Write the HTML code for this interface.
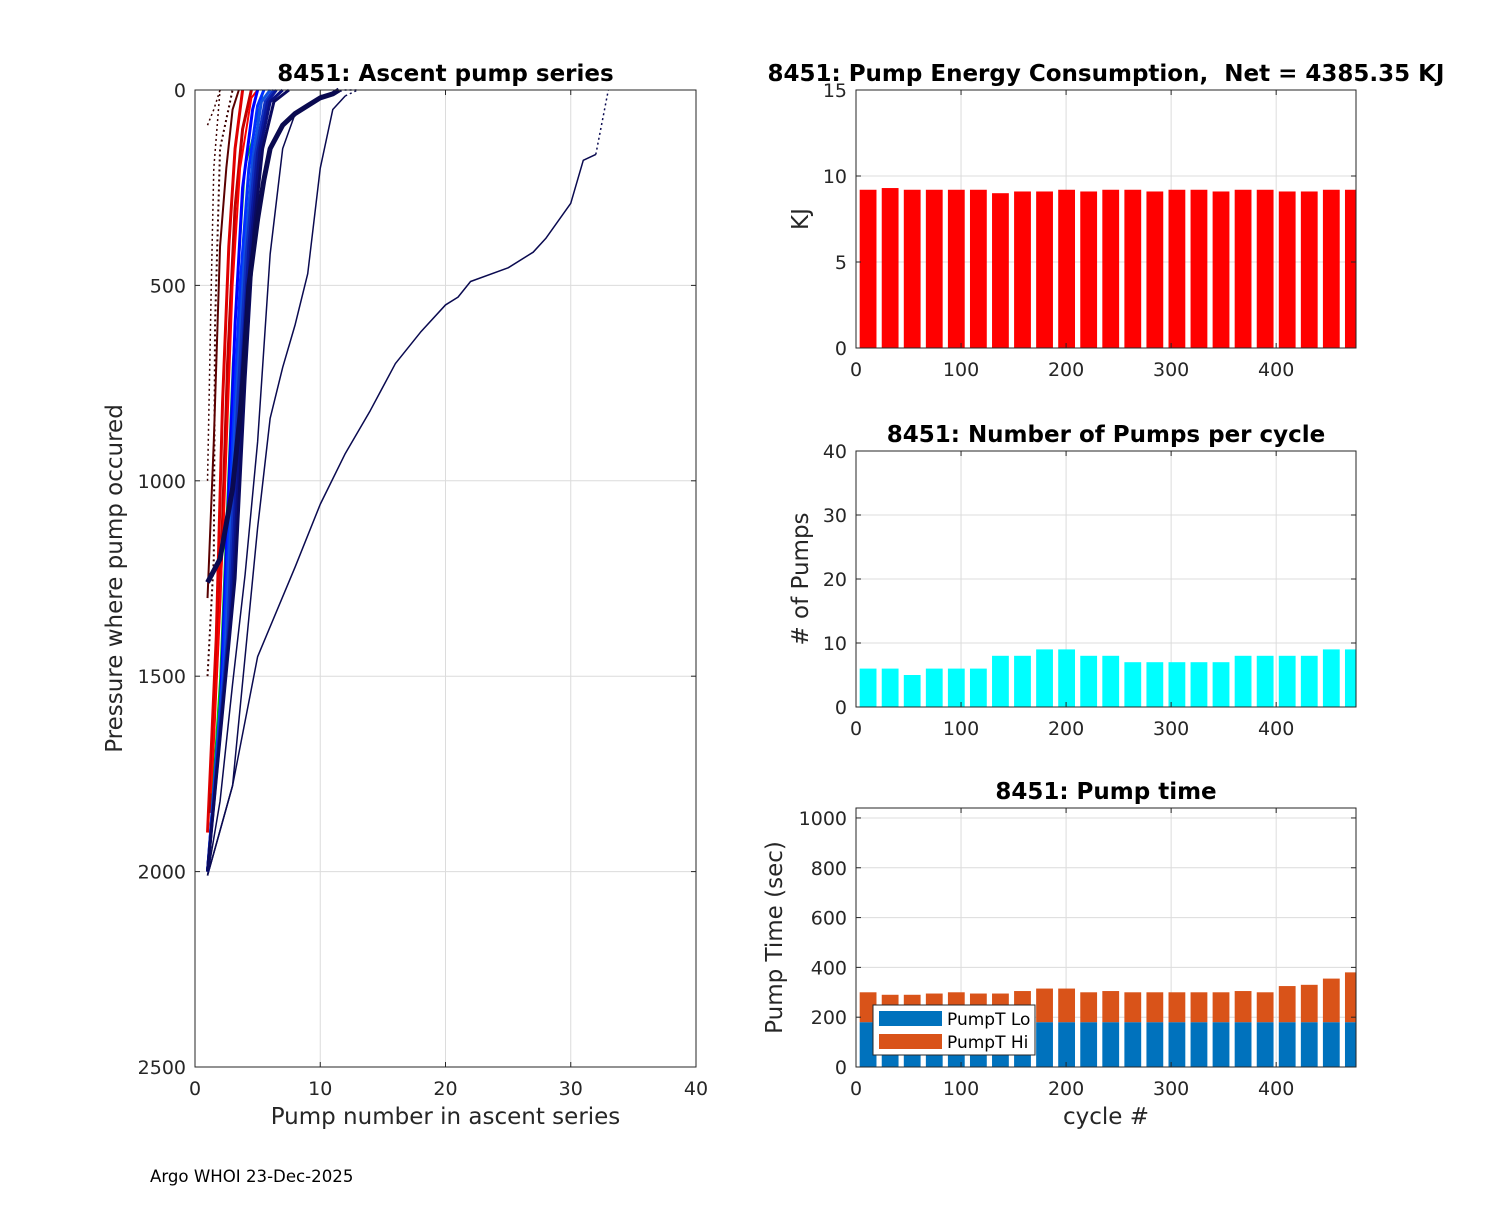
<!DOCTYPE html>
<html><head><meta charset="utf-8"><style>
body{margin:0;background:#fff;}
svg{font-family:"DejaVu Sans","Liberation Sans",sans-serif;}
.t{font-size:19px;fill:#262626}
.ti{font-size:23px;font-weight:bold;fill:#000}
.g{stroke:#dcdcdc;stroke-width:1}
</style></head><body>
<svg id="s" width="1500" height="1200" xmlns="http://www.w3.org/2000/svg">
<rect width="1500" height="1200" fill="#fff"/>
<g id="L"></g>
<g id="R1"></g>
<g id="R2"></g>
<g id="R3"></g>
<text x="150" y="1182" font-size="16.6" fill="#000">Argo WHOI 23-Dec-2025</text>
</svg>
<script>
// ---- data ----
const groupStart=[4,25,46,67,88,109,130,151,172,193,214,235,256,277,298,319,340,361,382,403,424,445,466];
const groupLen=[16,16,16,16,16,16,16,16,16,16,16,16,16,16,16,16,16,16,16,16,16,16,11];
const energyKJ=[9.2,9.3,9.2,9.2,9.2,9.2,9.0,9.1,9.1,9.2,9.1,9.2,9.2,9.1,9.2,9.2,9.1,9.2,9.2,9.1,9.1,9.2,9.2];
const pumpCount=[6,6,5,6,6,6,8,8,9,9,8,8,7,7,7,7,7,8,8,8,8,9,9];
const pumpLo=[180,180,180,180,180,180,180,180,180,180,180,180,180,180,180,180,180,180,180,180,180,180,180];
const pumpHi=[120,110,110,115,120,115,115,125,135,135,120,125,120,120,120,120,120,125,120,145,150,175,200];
const profiles=[
 {c:"#0a0a50",w:1.5,d:"",p:[[1,2010],[3,1780],[5,1450],[8,1220],[10,1060],[12,930],[14,820],[16,700],[18,620],[20,550],[21,530],[22,490],[25,455],[27,415],[28,380],[30,290],[31,180],[32,165]]},
 {c:"#0a0a50",w:1.5,d:"2,3",p:[[32,165],[33,0]]},
 {c:"#0a0a50",w:1.5,d:"",p:[[1,2010],[3,1780],[5,1120],[6,840],[7,710],[8,600],[9,470],[10,200],[11,50],[12,15]]},
 {c:"#0a0a50",w:1.5,d:"2,3",p:[[12,15],[13,0]]},
 {c:"#0a0a50",w:1.5,d:"",p:[[1,2010],[2,1820],[3,1520],[4,1240],[5,900],[6,420],[7,150],[8,60]]},
 {c:"#3a0000",w:2,d:"2,3",p:[[1,1500],[1.5,1200],[1.6,600],[2,150],[3,0]]},
 {c:"#3a0000",w:1.5,d:"2,3",p:[[1,1000],[1.3,500],[1.5,200],[2,0]]},
 {c:"#3a0000",w:1.5,d:"2,3",p:[[1,90],[1.5,50],[2,0]]},
 {c:"#5a0000",w:2,d:"",p:[[1,1300],[1.5,900],[2,400],[2.5,200],[3,50],[3.5,0]]},
 {c:"#e00000",w:3,d:"",p:[[1,1900],[1.7,1400],[2.2,800],[2.7,400],[3.2,150],[3.8,0]]},
 {c:"#c00000",w:3,d:"",p:[[1.2,1850],[2,1300],[2.6,700],[3.2,300],[3.8,100],[4.5,0]]},
 {c:"#ff0000",w:2,d:"",p:[[1.3,1800],[2.3,1100],[3,500],[3.6,200],[4.5,20],[5,0]]},
 {c:"#00c000",w:1.5,d:"",p:[[1,2000],[2,1500],[3,700],[4,200],[5.5,0]]},
 {c:"#0000ff",w:3,d:"",p:[[1,2000],[2,1600],[2.6,1100],[3.2,600],[3.8,250],[4.6,50],[5,0]]},
 {c:"#0030ff",w:3,d:"",p:[[1,2000],[2.2,1500],[3,900],[3.6,500],[4.3,200],[5,40],[5.5,0]]},
 {c:"#1050e0",w:3,d:"",p:[[1,2000],[2.4,1450],[3.2,850],[3.9,450],[4.6,180],[5.3,30],[6,0]]},
 {c:"#1030c0",w:3,d:"",p:[[1,2000],[2.6,1400],[3.4,800],[4.1,420],[4.8,170],[5.6,30],[6.3,0]]},
 {c:"#0a1aa0",w:3,d:"",p:[[1,2000],[2.8,1350],[3.6,780],[4.3,400],[5,160],[5.8,30],[6.5,0]]},
 {c:"#0a1080",w:3,d:"",p:[[1,2000],[3,1300],[3.8,760],[4.5,380],[5.2,150],[6,30],[7,0]]},
 {c:"#0a0a60",w:3,d:"",p:[[1,2000],[3.2,1250],[4,740],[4.7,360],[5.4,150],[6.3,30],[7.5,0]]},
 {c:"#0a0a50",w:5,d:"",p:[[1,1260],[2,1200],[3,1020],[3.7,800],[4.3,500],[5,330],[5.5,230],[6,150],[7,90],[8,60],[9,40],[10,20],[11,10],[11.5,0]]},
 {c:"#0a0a50",w:1.5,d:"2,3",p:[[10,15],[12,0],[13,0]]}
];
// ---- helpers ----
const NS="http://www.w3.org/2000/svg";
function mk(par,tag,at){const e=document.createElementNS(NS,tag);for(const k in at)e.setAttribute(k,at[k]);par.appendChild(e);return e;}
function txt(par,x,y,s,cls,anchor,extra){const e=mk(par,"text",Object.assign({x:x,y:y,class:cls,"text-anchor":anchor||"middle"},extra||{}));e.textContent=s;return e;}
function axes(g,x0,y0,x1,y1,xt,yt,sx,sy,title,ylab,xlab,yl){
  xt.forEach(v=>{const X=sx(v);const l=mk(g,"line",{x1:X,x2:X,y1:y0,y2:y1,class:"g"});});
  yt.forEach(v=>{const Y=sy(v);const l=mk(g,"line",{x1:x0,x2:x1,y1:Y,y2:Y,class:"g"});});
  return function frame(){
    mk(g,"rect",{x:x0,y:y0,width:x1-x0,height:y1-y0,fill:"none",stroke:"#262626","stroke-width":1});
    xt.forEach(v=>{const X=sx(v);mk(g,"line",{x1:X,x2:X,y1:y1,y2:y1-5,stroke:"#262626"});mk(g,"line",{x1:X,x2:X,y1:y0,y2:y0+5,stroke:"#262626"});
      const t=txt(g,X,y1+28,String(v),"t");});
    yt.forEach(v=>{const Y=sy(v);mk(g,"line",{x1:x0,x2:x0+5,y1:Y,y2:Y,stroke:"#262626"});mk(g,"line",{x1:x1,x2:x1-5,y1:Y,y2:Y,stroke:"#262626"});
      const t=txt(g,x0-9,Y+7,String(v),"t","end");});
    const tt=txt(g,(x0+x1)/2,y0-9,title,"ti","middle",{"xml:space":"preserve",style:"white-space:pre"});
    const yy=(y0+y1)/2;const yt2=txt(g,yl,yy,ylab,"t","middle",{transform:"rotate(-90 "+yl+" "+yy+")",style:"font-size:23px"});
    
    if(xlab){const xt2=txt(g,(x0+x1)/2,y1+57,xlab,"t","middle",{style:"font-size:23px"});}
  };
}
// ---- left chart ----
(function(){
 const g=document.getElementById("L");const x0=195,x1=696,y0=90,y1=1067;
 const sx=v=>x0+(x1-x0)*v/40, sy=v=>y0+(y1-y0)*v/2500;
 const fr=axes(g,x0,y0,x1,y1,[0,10,20,30,40],[0,500,1000,1500,2000,2500],sx,sy,"8451: Ascent pump series","Pressure where pump occured","Pump number in ascent series",122);
 profiles.forEach(pr=>{
  const pl=mk(g,"polyline",{points:pr.p.map(q=>sx(q[0])+","+sy(q[1])).join(" "),fill:"none",stroke:pr.c,"stroke-width":pr.w,"stroke-dasharray":pr.d,"stroke-linejoin":"round"});
  
  
 });
 fr();
})();
// ---- right charts ----
function barChart(id,y0,y1,ymax,yt,title,ylab,xlab,series,yl){
 const g=document.getElementById(id);const x0=856,x1=1356;
 const sx=v=>x0+(x1-x0)*v/476, sy=v=>y1-(y1-y0)*v/ymax;
 const fr=axes(g,x0,y0,x1,y1,[0,100,200,300,400],yt,sx,sy,title,ylab,xlab,yl);
 groupStart.forEach((s,i)=>{
  let base=0;
  series.forEach(se=>{
   const v=se.vals[i];
   const r=mk(g,"rect",{x:sx(s-0.5),y:sy(base+v),width:sx(s+groupLen[i]-0.5)-sx(s-0.5),height:sy(base)-sy(base+v),fill:se.c});
   
   
   base+=v;
  });
 });
 fr();
 return {g:g,sx:sx,sy:sy};
}
barChart("R1",90,348,15,[0,5,10,15],"8451: Pump Energy Consumption,  Net = 4385.35 KJ","KJ","",[{vals:energyKJ,c:"#ff0000",n:"energy-bar"}],808);
barChart("R2",451,707,40,[0,10,20,30,40],"8451: Number of Pumps per cycle","# of Pumps","",[{vals:pumpCount,c:"#00ffff",n:"pump-count-bar"}],808);
barChart("R3",808,1067,1040,[0,200,400,600,800,1000],"8451: Pump time","Pump Time (sec)","cycle #",[{vals:pumpLo,c:"#0072BD",n:"pump-lo-bar"},{vals:pumpHi,c:"#D95319",n:"pump-hi-bar"}],782);
// legend
(function(){
 const g=document.getElementById("R3");
 const lg=mk(g,"g",{});
 
 
 mk(lg,"rect",{x:873,y:1005,width:162,height:50,fill:"#fff",stroke:"#262626"});
 mk(lg,"rect",{x:879,y:1011,width:63,height:15,fill:"#0072BD"});
 mk(lg,"rect",{x:879,y:1034,width:63,height:15,fill:"#D95319"});
 const a=txt(lg,947,1025,"PumpT Lo","t","start",{style:"font-size:17px;fill:#000"});
 const b=txt(lg,947,1048,"PumpT Hi","t","start",{style:"font-size:17px;fill:#000"});
})();
</script>
</body></html>
